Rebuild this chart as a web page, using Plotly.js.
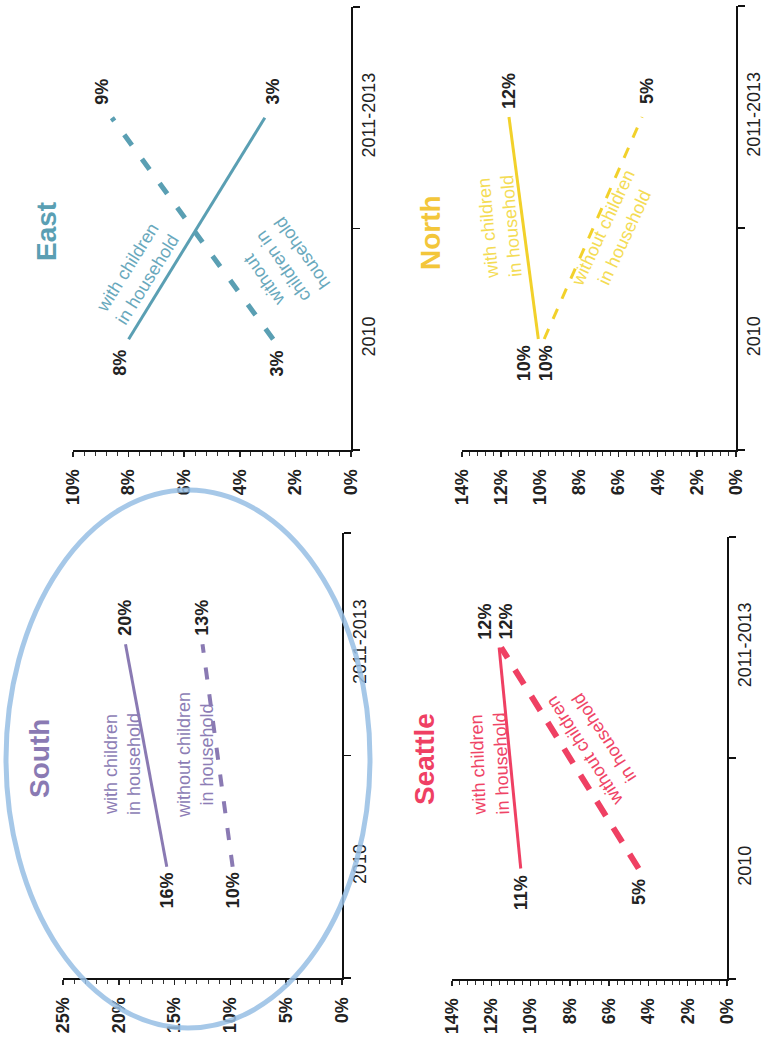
<!DOCTYPE html>
<html>
<head>
<meta charset="utf-8">
<script src="https://cdn.plot.ly/plotly-3.0.1.min.js"></script>
<style>html,body{margin:0;padding:0;background:#fff;}#chart{width:767px;height:1039px;}</style>
</head>
<body>
<div id="chart"></div>
<script>
// ---------- DATA ----------
const categories = ['2010', '2011-2013'];
const regions = ['East', 'North', 'South', 'Seattle'];
const seriesNames = ['with children in household', 'without children in household'];

const eastWith = [8.0, 3.1];
const eastWithout = [2.8, 8.6];
const northWith = [10.1, 11.6];
const northWithout = [9.8, 4.8];
const southWith = [15.7, 19.4];
const southWithout = [9.8, 12.5];
const seattleWith = [10.5, 11.6];
const seattleWithout = [4.5, 11.5];

const eastWithLabels = ['8%', '3%'];
const eastWithoutLabels = ['3%', '9%'];
const northWithLabels = ['10%', '12%'];
const northWithoutLabels = ['10%', '5%'];
const southWithLabels = ['16%', '20%'];
const southWithoutLabels = ['10%', '13%'];
const seattleWithLabels = ['11%', '12%'];
const seattleWithoutLabels = ['5%', '12%'];

const axisMax = [10, 14, 25, 14];
const axisStep = [2, 2, 5, 2];
const axisMinorStep = [0.4, 0.4, 1, 0.4];

// ---------- STYLE / LAYOUT ----------
const W = 767, H = 1039;
const FONT = 'Liberation Sans, Arial, sans-serif';
const px = v => v / W;
const py = v => 1 - v / H;

const panels = [
  { region: 0, xa: 'x', ya: 'y', dx: [73, 351], dy: [7, 450],
    color: '#5a9fb3', text: '#68a8bc', title: [47, 232],
    withVals: eastWith, withoutVals: eastWithout,
    withLabels: eastWithLabels, withoutLabels: eastWithoutLabels,
    withText: { p: [137, 273], a: -58, t: 'with children<br>in household' },
    withoutText: { p: [283, 267], a: -125, t: 'without<br>children in<br>household' },
    dashW: 5, dash: '13px,17px', shW: [[-8, 8], [4, -10]] },
  { region: 1, xa: 'x2', ya: 'y2', dx: [462, 736], dy: [6, 450],
    color: '#f2d12b', text: '#f4dc55', titleColor: '#f3c63a', title: [431, 233],
    withVals: northWith, withoutVals: northWithout,
    withLabels: northWithLabels, withoutLabels: northWithoutLabels,
    withText: { p: [500, 227], a: -95, t: 'with children<br>in household' },
    withoutText: { p: [614, 233], a: -65, t: 'without children<br>in household' },
    dashW: 3, dash: '11px,11px', shW: [[-14, 0], [2, 5]] },
  { region: 2, xa: 'x3', ya: 'y3', dx: [63, 342], dy: [533, 978],
    color: '#8a7ab3', text: '#8d7db5', title: [39, 759],
    withVals: southWith, withoutVals: southWithout,
    withLabels: southWithLabels, withoutLabels: southWithoutLabels,
    withText: { p: [122, 764], a: -90, t: 'with children<br>in household' },
    withoutText: { p: [195, 755], a: -90, t: 'without children<br>in household' },
    dashW: 4, dash: '12px,15px', shW: [[0, 0], [0, 0]] },
  { region: 3, xa: 'x4', ya: 'y4', dx: [452, 727], dy: [537, 979],
    color: '#ef4063', text: '#ef4466', title: [424, 759],
    withVals: seattleWith, withoutVals: seattleWithout,
    withLabels: seattleWithLabels, withoutLabels: seattleWithoutLabels,
    withText: { p: [489, 764], a: -92, t: 'with children<br>in household' },
    withoutText: { p: [594, 745], a: -123, t: 'without children<br>in household' },
    dashW: 6, dash: '17px,14px', shW: [[0, -15], [0, 4]] }
];

const traces = [];
const annotations = [];
const layout = {
  width: W, height: H,
  margin: { l: 0, r: 0, t: 0, b: 0 },
  paper_bgcolor: '#ffffff', plot_bgcolor: 'rgba(0,0,0,0)',
  showlegend: false,
  font: { family: FONT, color: '#1a1a1a' },
  annotations: annotations,
  shapes: [{
    type: 'circle', xref: 'paper', yref: 'paper', layer: 'above',
    x0: px(6), x1: px(370), y0: py(1028), y1: py(490),
    line: { color: 'rgba(150,190,228,0.85)', width: 5 }
  }]
};

panels.forEach((p, i) => {
  const n = i === 0 ? '' : String(i + 1);
  const xName = 'xaxis' + n, yName = 'yaxis' + n;
  layout[xName] = {
    domain: [px(p.dx[0]), px(p.dx[1])],
    anchor: p.ya,
    range: [axisMax[p.region], 0],
    dtick: axisStep[p.region], tick0: 0,
    ticksuffix: '%',
    tickangle: -90,
    ticks: 'outside', ticklen: 5, tickwidth: 1.5, tickcolor: '#222',
    minor: { dtick: axisMinorStep[p.region], ticks: 'outside', ticklen: 4, tickwidth: 1, tickcolor: '#333', showgrid: false },
    showline: true, linecolor: '#111', linewidth: 2,
    showgrid: false, zeroline: false, fixedrange: true,
    ticklabelstandoff: 5,
    tickfont: { family: FONT, size: 18, color: '#222', weight: 'bold' }
  };
  layout[yName] = {
    domain: [py(p.dy[1]), py(p.dy[0])],
    anchor: p.xa, side: 'right',
    type: 'category', categoryorder: 'array', categoryarray: categories,
    range: [-0.5, 1.5],
    tickson: 'boundaries',
    ticks: 'outside', ticklen: 7, tickwidth: 1.5, tickcolor: '#111',
    tickangle: -90,
    showline: true, linecolor: '#111', linewidth: 2,
    showgrid: false, zeroline: false, fixedrange: true,
    ticklabelstandoff: 0,
    tickfont: { family: FONT, size: 18, color: '#222' }
  };

  traces.push({
    type: 'scatter', mode: 'lines', xaxis: p.xa, yaxis: p.ya,
    x: p.withVals, y: categories, name: seriesNames[0],
    line: { color: p.color, width: 3 }, hoverinfo: 'skip'
  });
  traces.push({
    type: 'scatter', mode: 'lines', xaxis: p.xa, yaxis: p.ya,
    x: p.withoutVals, y: categories, name: seriesNames[1],
    line: { color: p.color, width: p.dashW, dash: p.dash }, hoverinfo: 'skip'
  });

  // value labels (category axis positions given as index)
  [[p.withVals, p.withLabels], [p.withoutVals, p.withoutLabels]].forEach((pair, s) => {
    pair[0].forEach((v, k) => {
      annotations.push({
        xref: p.xa, yref: p.ya, x: v, y: k,
        xanchor: 'center', yanchor: 'middle',
        text: pair[1][k], showarrow: false, textangle: -90,
        xshift: p.shW[s][k], yshift: k === 0 ? -24 : 26,
        font: { family: FONT, size: 18, color: '#222', weight: 'bold' }
      });
    });
  });

  // region title
  annotations.push({
    xref: 'paper', yref: 'paper', x: px(p.title[0]), y: py(p.title[1]),
    xanchor: 'center', yanchor: 'middle',
    text: regions[p.region], showarrow: false, textangle: -90,
    font: { family: FONT, size: 28, color: p.titleColor || p.color, weight: 'bold' }
  });
  // series labels
  [p.withText, p.withoutText].forEach(t => {
    annotations.push({
      xref: 'paper', yref: 'paper', x: px(t.p[0]), y: py(t.p[1]),
      xanchor: 'center', yanchor: 'middle',
      text: t.t, showarrow: false, textangle: t.a,
      font: { family: FONT, size: 18, color: p.text }
    });
  });
});

Plotly.newPlot('chart', traces, layout, { staticPlot: true, displayModeBar: false });
</script>
</body>
</html>
